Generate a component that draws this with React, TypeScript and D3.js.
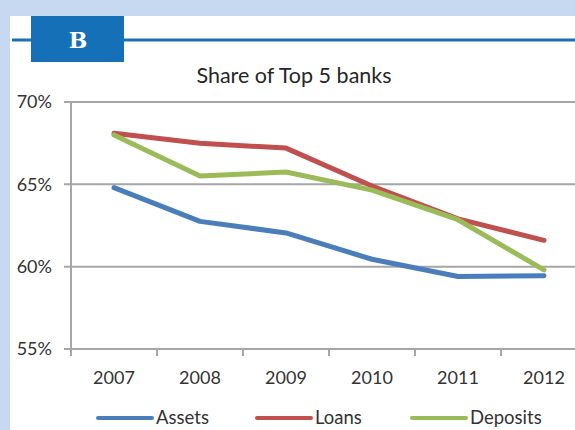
import * as d3 from "d3";

const years: string[] = ["2007", "2008", "2009", "2010", "2011", "2012"];
const assets: number[] = [64.8, 62.75, 62.05, 60.45, 59.4, 59.45];
const loans: number[] = [68.1, 67.5, 67.2, 64.9, 62.9, 61.6];
const deposits: number[] = [68.0, 65.5, 65.75, 64.65, 62.85, 59.8];
const yTicks: number[] = [55, 60, 65, 70];
const seriesNames: string[] = ["Assets", "Loans", "Deposits"];

const COLORS = ["#4a7ebb", "#c0504d", "#9bbb59"];
const FONT = "Lato, 'Open Sans', sans-serif";

export default function App() {
  const w = 575;
  const h = 430;

  // plot area
  const x0 = 71;
  const step = 86;
  const xScale = d3
    .scaleBand<string>()
    .domain(years)
    .range([x0, x0 + step * years.length]);
  const yScale = d3.scaleLinear().domain([55, 70]).range([349, 102]);

  const line = d3
    .line<number>()
    .x((_, i) => (xScale(years[i]) as number) + xScale.bandwidth() / 2)
    .y((d) => yScale(d));

  const series = [assets, loans, deposits];
  const legendX = [98, 257, 412];

  return (
    <svg
      width={w}
      height={h}
      style={{ position: "fixed", left: 0, top: 0, display: "block" }}
      fontFamily={FONT}
    >
      {/* frame */}
      <rect x={0} y={0} width={w} height={h} fill="#c6d9f0" />
      <rect x={10} y={16} width={w - 10} height={h - 16} fill="#ffffff" />
      <line x1={12} x2={w} y1={40} y2={40} stroke="#1a6fb6" strokeWidth={3} />
      <rect x={31} y={16} width={93} height={46} fill="#1570b7" />
      <text
        x={78}
        y={48}
        textAnchor="middle"
        fill="#ffffff"
        fontFamily="'DejaVu Serif', 'Liberation Serif', serif"
        fontWeight="bold"
        fontSize={22}
      >
        B
      </text>

      {/* title */}
      <text x={294} y={83} textAnchor="middle" fontSize={21.5} fill="#262626">
        Share of Top 5 banks
      </text>

      {/* y grid + labels */}
      {yTicks.map((t) => (
        <g key={t}>
          <line
            x1={64}
            x2={w}
            y1={yScale(t)}
            y2={yScale(t)}
            stroke="#a6a6a6"
            strokeWidth={2}
          />
          <text
            x={52}
            y={yScale(t)}
            dy="0.35em"
            textAnchor="end"
            fontSize={18}
            fill="#333333"
          >
            {t}%
          </text>
        </g>
      ))}
      {/* y axis */}
      <line x1={x0} x2={x0} y1={yScale(70)} y2={yScale(55) + 7} stroke="#a6a6a6" strokeWidth={2} />

      {/* x ticks + labels */}
      {years.map((yr) => (
        <g key={yr}>
          <line
            x1={xScale(yr) as number}
            x2={xScale(yr) as number}
            y1={yScale(55)}
            y2={yScale(55) + 7}
            stroke="#a6a6a6"
            strokeWidth={2}
          />
          <text
            x={(xScale(yr) as number) + xScale.bandwidth() / 2}
            y={378}
            dy="0.35em"
            textAnchor="middle"
            fontSize={18}
            fill="#333333"
          >
            {yr}
          </text>
        </g>
      ))}

      {/* lines */}
      {series.map((s, i) => (
        <path
          key={seriesNames[i]}
          d={line(s) as string}
          fill="none"
          stroke={COLORS[i]}
          strokeWidth={5}
          strokeLinecap="round"
          strokeLinejoin="round"
        />
      ))}

      {/* legend */}
      {seriesNames.map((name, i) => (
        <g key={name} transform={`translate(${legendX[i]}, 418)`}>
          <line x1={0} x2={54} y1={0} y2={0} stroke={COLORS[i]} strokeWidth={4} strokeLinecap="round" />
          <text x={58} y={0} dy="0.35em" fontSize={18.5} fill="#333333">
            {name}
          </text>
        </g>
      ))}
    </svg>
  );
}
